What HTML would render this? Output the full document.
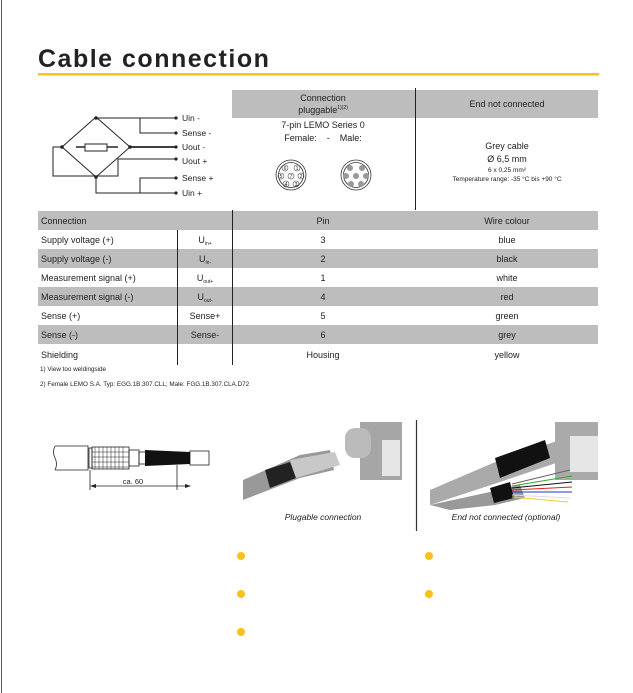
<!DOCTYPE html>
<html><head><meta charset="utf-8"><style>
html,body{margin:0;padding:0;background:#fff;width:633px;height:693px;overflow:hidden}
svg{display:block}
text{font-family:"Liberation Sans",sans-serif;fill:#222}
</style></head><body>
<svg width="633" height="693" viewBox="0 0 633 693" xmlns="http://www.w3.org/2000/svg">
<line x1="1.5" y1="0" x2="1.5" y2="693" stroke="#555" stroke-width="1"/>
<text x="38" y="67" font-size="25" font-weight="bold" letter-spacing="1.5" fill="#333">Cable connection</text>
<rect x="38" y="73" width="561" height="2.5" fill="#f8c21a"/>

<g stroke="#222" stroke-width="1" fill="none">
<polygon points="96,117 130,147 96,177 62,147"/>
<rect x="85" y="144" width="22" height="7"/>
<line x1="76" y1="147" x2="85" y2="147" stroke-width="1.5"/>
<line x1="107" y1="147" x2="118" y2="147" stroke-width="1.5"/>
<polyline points="96,118 175,118"/>
<polyline points="140,118 140,133 176,133"/>
<polyline points="130,147 176,147" stroke-width="1.8"/>
<polyline points="118,162 118,159 176,159"/>
<polyline points="96,177 96,193 176,193"/>
<polyline points="140,193 140,178 176,178"/>
<polyline points="62,147 53,147 53,176 118,176 118,162"/>
</g>
<g fill="#222"><circle cx="96" cy="118" r="1.8"/><circle cx="96" cy="177" r="1.8"/><circle cx="62" cy="147" r="1.8"/><circle cx="130" cy="147" r="1.8"/>
<circle cx="176" cy="118" r="1.6"/><circle cx="176" cy="133" r="1.6"/><circle cx="176" cy="147" r="1.6"/><circle cx="176" cy="159" r="1.6"/><circle cx="176" cy="178" r="1.6"/><circle cx="176" cy="193" r="1.6"/></g>
<g font-size="8.5"><text x="182" y="121">Uin -</text><text x="182" y="136">Sense -</text><text x="182" y="150">Uout -</text><text x="182" y="164">Uout +</text><text x="182" y="181">Sense +</text><text x="182" y="196">Uin +</text></g>

<rect x="232" y="90" width="366" height="28" fill="#bdbdbd"/>
<line x1="415.5" y1="88" x2="415.5" y2="210" stroke="#222"/>
<g font-size="9" text-anchor="middle">
<text x="323" y="101">Connection</text><text x="323" y="113">pluggable<tspan font-size="5" dy="-4">1)(2)</tspan></text>
<text x="507" y="107">End not connected</text>
<text x="323" y="128">7-pin LEMO Series 0</text>
<text x="323" y="141">Female:&#160;&#160;&#160;&#160;-&#160;&#160;&#160;&#160;Male:</text>
<text x="507" y="149">Grey cable</text>
<text x="507" y="162">Ø 6,5 mm</text>
<text x="507" y="172" font-size="6.5">6 x 0,25 mm²</text>
<text x="507" y="181" font-size="6.5">Temperature range: -35 °C bis +90 °C</text>
</g>
<g fill="none" stroke="#333" stroke-width="0.8">
<circle cx="291" cy="175" r="15"/><circle cx="291" cy="175" r="12.5"/>
<circle cx="356" cy="175" r="15"/><circle cx="356" cy="175" r="12.5"/>
</g>
<g font-size="5" text-anchor="middle" fill="#444">
<g fill="none" stroke="#555" stroke-width="0.6"><circle cx="285" cy="168" r="3"/><circle cx="297" cy="168" r="3"/><circle cx="281" cy="176" r="3"/><circle cx="291" cy="176" r="3"/><circle cx="301" cy="176" r="3"/><circle cx="286" cy="184" r="3"/><circle cx="296" cy="184" r="3"/></g>
<text x="285" y="170">6</text><text x="297" y="170">1</text><text x="281" y="178">5</text><text x="291" y="178">7</text><text x="301" y="178">2</text><text x="286" y="186">4</text><text x="296" y="186">3</text>
<g fill="#999"><circle cx="350" cy="168" r="3"/><circle cx="362" cy="168" r="3"/><circle cx="346" cy="176" r="3"/><circle cx="356" cy="176" r="3"/><circle cx="366" cy="176" r="3"/><circle cx="351" cy="184" r="3"/><circle cx="361" cy="184" r="3"/></g>
</g>

<rect x="38" y="211" width="560" height="19" fill="#bdbdbd"/>
<rect x="38" y="249" width="560" height="19" fill="#bdbdbd"/>
<rect x="38" y="287" width="560" height="19" fill="#bdbdbd"/>
<rect x="38" y="325" width="560" height="19" fill="#bdbdbd"/>
<line x1="177.5" y1="230" x2="177.5" y2="365" stroke="#222"/>
<line x1="232.5" y1="210" x2="232.5" y2="365" stroke="#222"/>
<g font-size="9">
<text x="41" y="224">Connection</text>
<text x="41" y="243">Supply voltage (+)</text>
<text x="41" y="262">Supply voltage (-)</text>
<text x="41" y="281">Measurement signal (+)</text>
<text x="41" y="300">Measurement signal (-)</text>
<text x="41" y="319">Sense (+)</text>
<text x="41" y="338">Sense (-)</text>
<text x="41" y="358">Shielding</text>
</g>
<g font-size="9" text-anchor="middle">
<text x="205" y="243">U<tspan font-size="5" dy="2">in+</tspan></text>
<text x="205" y="262">U<tspan font-size="5" dy="2">in-</tspan></text>
<text x="205" y="281">U<tspan font-size="5" dy="2">out+</tspan></text>
<text x="205" y="300">U<tspan font-size="5" dy="2">out-</tspan></text>
<text x="205" y="319">Sense+</text><text x="205" y="338">Sense-</text>
<text x="323" y="224">Pin</text><text x="323" y="243">3</text><text x="323" y="262">2</text><text x="323" y="281">1</text><text x="323" y="300">4</text><text x="323" y="319">5</text><text x="323" y="338">6</text><text x="323" y="358">Housing</text>
<text x="507" y="224">Wire colour</text><text x="507" y="243">blue</text><text x="507" y="262">black</text><text x="507" y="281">white</text><text x="507" y="300">red</text><text x="507" y="319">green</text><text x="507" y="338">grey</text><text x="507" y="358">yellow</text>
</g>
<text x="40" y="371" font-size="6.3">1) View too weldingside</text>
<text x="40" y="386" font-size="6.3">2) Female LEMO S.A. Typ: EGG.1B.307.CLL; Male: FGG.1B.307.CLA.D72</text>

<g stroke="#222" stroke-width="0.8" fill="none">
<path d="M55,446 L88,446 L88,470 L55,470 M55,446 q-3,6 0,12 q3,6 0,12"/>
<rect x="89" y="448" width="3" height="20"/>
<rect x="92" y="447" width="37" height="22"/>
<rect x="129" y="450" width="10" height="16"/>
<rect x="139" y="452" width="10" height="12"/>
<rect x="190" y="451" width="19" height="14"/>
<line x1="90" y1="470" x2="90" y2="490"/><line x1="177" y1="465" x2="177" y2="490"/>
<line x1="92" y1="486" x2="189" y2="486"/>
</g>
<g stroke="#222" stroke-width="0.5">
<line x1="95" y1="447" x2="95" y2="469"/><line x1="99" y1="447" x2="99" y2="469"/><line x1="103" y1="447" x2="103" y2="469"/><line x1="107" y1="447" x2="107" y2="469"/><line x1="111" y1="447" x2="111" y2="469"/><line x1="115" y1="447" x2="115" y2="469"/><line x1="119" y1="447" x2="119" y2="469"/><line x1="123" y1="447" x2="123" y2="469"/>
<line x1="92" y1="452" x2="129" y2="452"/><line x1="92" y1="457" x2="129" y2="457"/><line x1="92" y1="462" x2="129" y2="462"/><line x1="92" y1="467" x2="129" y2="467"/>
</g>
<polygon points="145,450 190,452 190,464 145,466" fill="#111"/>
<polygon points="90,486 96,484 96,488" fill="#222"/><polygon points="191,486 185,484 185,488" fill="#222"/>
<text x="133" y="484" font-size="7.5" text-anchor="middle">ca. 60</text>

<rect x="360" y="422" width="42" height="58" fill="#a6a6a6"/>
<rect x="382" y="440" width="18" height="36" fill="#e6e6e6"/>
<rect x="345" y="428" width="26" height="30" rx="10" fill="#bbb"/>
<polygon points="243,480 300,455 330,450 334,470 300,478 243,500" fill="#999"/>
<polygon points="265,470 290,462 296,478 270,488" fill="#222"/>
<polygon points="290,460 335,452 340,465 296,478" fill="#c8c8c8"/>
<line x1="416.5" y1="420" x2="416.5" y2="531" stroke="#333" stroke-width="1.2"/>
<rect x="555" y="422" width="43" height="58" fill="#aaa"/>
<rect x="570" y="436" width="28" height="36" fill="#e6e6e6"/>
<polygon points="430,490 500,460 560,440 565,460 500,482 430,505" fill="#aaa"/>
<polygon points="495,458 545,440 550,458 500,478" fill="#111"/>
<polygon points="430,505 490,492 520,485 525,498 495,505 450,510" fill="#999"/>
<polygon points="490,488 510,482 514,498 494,503" fill="#111"/>
<g stroke-width="1"><line x1="512" y1="484" x2="570" y2="470" stroke="#666"/><line x1="512" y1="486" x2="572" y2="476" stroke="#3a3"/><line x1="512" y1="488" x2="572" y2="482" stroke="#111"/><line x1="512" y1="490" x2="572" y2="487" stroke="#d22"/><line x1="512" y1="492" x2="572" y2="492" stroke="#23c"/><line x1="512" y1="495" x2="570" y2="498" stroke="#ddd"/><line x1="512" y1="497" x2="568" y2="502" stroke="#ec3"/></g>
<g font-size="8.5" font-style="italic" text-anchor="middle"><text x="323" y="520">Plugable connection</text><text x="506" y="520">End not connected (optional)</text></g>

<g fill="#f8c21a"><circle cx="241" cy="556" r="4"/><circle cx="429" cy="556" r="4"/><circle cx="241" cy="594" r="4"/><circle cx="429" cy="594" r="4"/><circle cx="241" cy="632" r="4"/></g>
</svg>
</body></html>
